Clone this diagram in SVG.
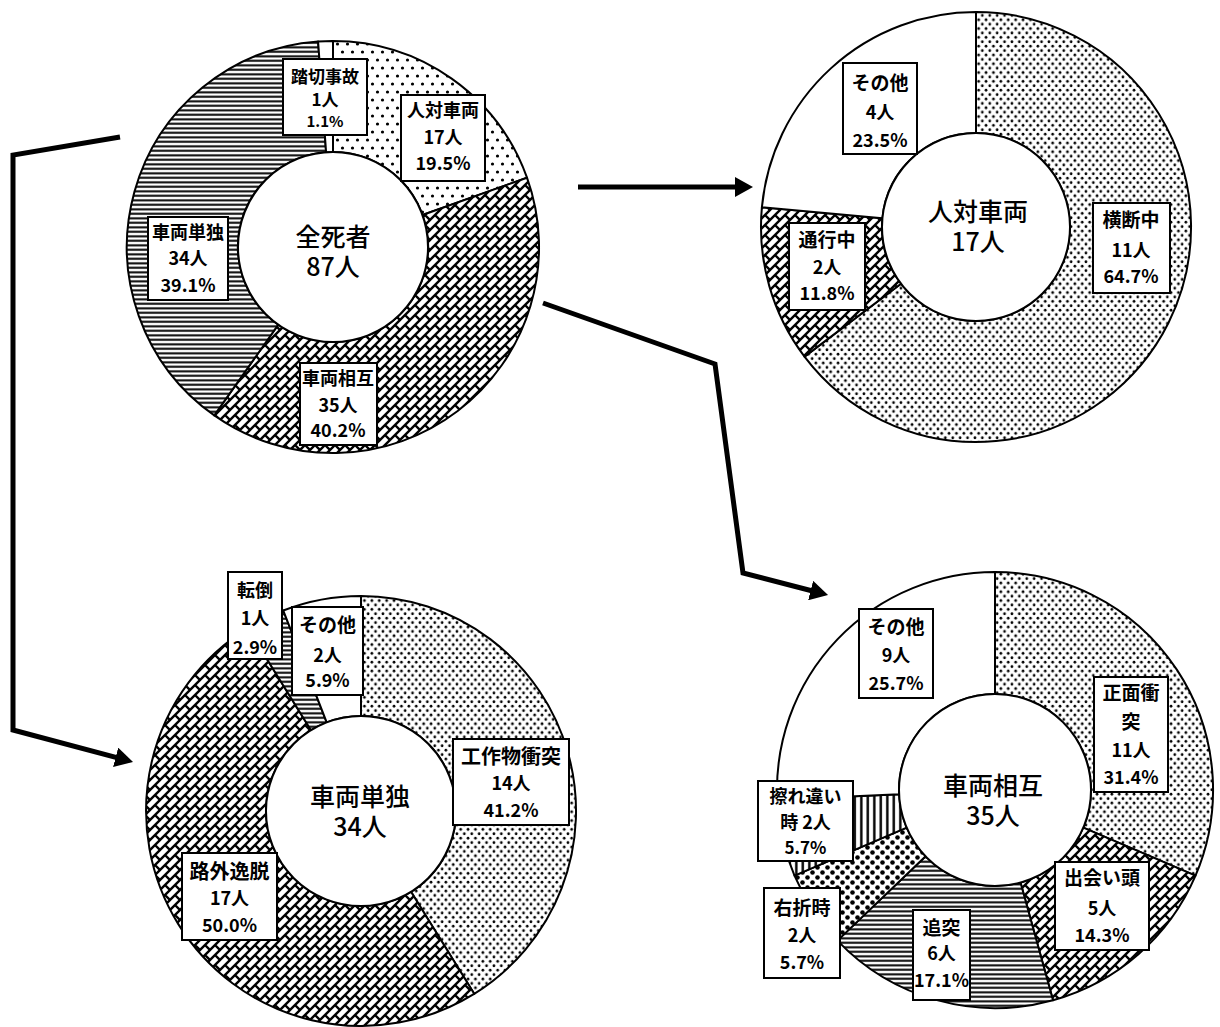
<svg xmlns="http://www.w3.org/2000/svg" width="1220" height="1027" viewBox="0 0 1220 1027">
<defs>
<style>
.sl{stroke:#000;stroke-width:2;stroke-linejoin:round}
.box{fill:#fff;stroke:#000;stroke-width:2}
.lb{font-family:"Noto Sans CJK JP","Noto Sans",sans-serif;font-weight:bold;font-size:18px;fill:#000;text-anchor:middle}
.ct{font-family:"Noto Sans CJK JP","Noto Sans",sans-serif;font-weight:500;font-size:25px;fill:#000;text-anchor:middle}
.hole{fill:#fff;stroke:#000;stroke-width:2}
.con{fill:none;stroke:#000;stroke-width:5;stroke-linejoin:miter}
</style>
<pattern id="dotsA" width="10" height="16" patternUnits="userSpaceOnUse">
<rect width="10" height="16" fill="#fff"/>
<circle cx="2.5" cy="4" r="1.6" fill="#000"/>
<circle cx="7.5" cy="12" r="1.6" fill="#000"/>
</pattern>
<pattern id="dotsB" width="7.4" height="8.8" patternUnits="userSpaceOnUse">
<rect width="7.4" height="8.8" fill="#fff"/>
<circle cx="1.85" cy="2.2" r="1.35" fill="#000"/>
<circle cx="5.55" cy="6.6" r="1.35" fill="#000"/>
</pattern>
<pattern id="bigdots" width="10" height="10" patternUnits="userSpaceOnUse">
<rect width="10" height="10" fill="#fff"/>
<circle cx="2.5" cy="2.5" r="2.3" fill="#000"/>
<circle cx="7.5" cy="7.5" r="2.3" fill="#000"/>
</pattern>
<pattern id="hlines" width="8" height="4.5" patternUnits="userSpaceOnUse">
<rect width="8" height="4.5" fill="#fff"/>
<rect y="1.3" width="8" height="2" fill="#000"/>
</pattern>
<pattern id="vlines" width="6.5" height="8" patternUnits="userSpaceOnUse">
<rect width="6.5" height="8" fill="#fff"/>
<rect x="2.1" width="2.4" height="8" fill="#000"/>
</pattern>
<pattern id="brick" width="10" height="10" patternUnits="userSpaceOnUse">
<rect width="10" height="10" fill="#fff"/>
<path d="M-1,11 L11,-1 M-1,1 L1,-1 M9,11 L11,9 M5,5 L10,10" stroke="#000" stroke-width="2.4" fill="none"/>
</pattern>
<marker id="arr" markerUnits="userSpaceOnUse" markerWidth="18" markerHeight="20" refX="10" refY="10" orient="auto">
<path d="M0,0 L18,10 L0,20 Z" fill="#000"/>
</marker>
</defs>
<rect width="1220" height="1027" fill="#fff"/>

<g id="connectors">
<polyline class="con" points="120,137 13,155 13,730 125.3,759.9" marker-end="url(#arr)"/>
<polyline class="con" points="578,187 745,187" marker-end="url(#arr)"/>
<polyline class="con" points="543,303 715,364 743,573 820.3,593" marker-end="url(#arr)"/>
</g>

<g id="chart-all">
<path class="sl" fill="url(#dotsA)" d="M333,41 A206,206 0 0 1 527.0,177.7 L422.5,215.0 A95,95 0 0 0 333,152 Z"/>
<path class="sl" fill="url(#brick)" d="M527.0,177.7 A206,206 0 0 1 214.3,415.4 L278.3,324.7 A95,95 0 0 0 422.5,215.0 Z"/>
<path class="sl" fill="url(#hlines)" d="M214.3,415.4 A206,206 0 0 1 318.1,41.5 L326.1,152.2 A95,95 0 0 0 278.3,324.7 Z"/>
<path class="sl" fill="#fff" d="M318.1,41.5 A206,206 0 0 1 333,41 L333,152 A95,95 0 0 0 326.1,152.2 Z"/>
<circle class="hole" cx="333" cy="247" r="95"/>
<text class="ct" x="333" y="246">全死者<tspan x="333" dy="30">87人</tspan></text>
<g id="n-fumikiri"><rect class="box" x="283" y="59" width="84" height="76"/>
<text class="lb" x="325" y="83" style="font-size:17px">踏切事故</text><text class="lb" x="325" y="106" style="font-size:17px">1人</text><text class="lb" x="325" y="127" style="font-size:15px">1.1%</text></g>
<g id="n-hito"><rect class="box" x="401" y="95" width="84" height="86"/>
<text class="lb" x="443" y="117">人対車両</text><text class="lb" x="443" y="144">17人</text><text class="lb" x="443" y="170">19.5%</text></g>
<g id="n-tandoku"><rect class="box" x="148" y="217" width="80" height="83"/>
<text class="lb" x="188" y="239">車両単独</text><text class="lb" x="188" y="265">34人</text><text class="lb" x="188" y="292">39.1%</text></g>
<g id="n-sougo"><rect class="box" x="300" y="363" width="77" height="82"/>
<text class="lb" x="338" y="385">車両相互</text><text class="lb" x="338" y="412">35人</text><text class="lb" x="338" y="437">40.2%</text></g>
</g>

<g id="chart-hito">
<path class="sl" fill="url(#dotsB)" d="M976,12 A215,215 0 1 1 804.5,356.6 L901.0,283.7 A94,94 0 1 0 976,133 Z"/>
<path class="sl" fill="url(#brick)" d="M804.5,356.6 A215,215 0 0 1 761.9,207.2 L882.4,218.3 A94,94 0 0 0 901.0,283.7 Z"/>
<path class="sl" fill="#fff" d="M761.9,207.2 A215,215 0 0 1 976,12 L976,133 A94,94 0 0 0 882.4,218.3 Z"/>
<circle class="hole" cx="976" cy="227" r="94"/>
<text class="ct" x="978" y="221">人対車両<tspan x="978" dy="30">17人</tspan></text>
<g id="n-sonota1"><rect class="box" x="843" y="63" width="74" height="91"/>
<text class="lb" x="880" y="90" style="font-size:19px">その他</text><text class="lb" x="880" y="119">4人</text><text class="lb" x="880" y="147">23.5%</text></g>
<g id="n-tsuko"><rect class="box" x="789" y="223" width="76" height="87"/>
<text class="lb" x="827" y="247" style="font-size:19px">通行中</text><text class="lb" x="827" y="274">2人</text><text class="lb" x="827" y="300">11.8%</text></g>
<g id="n-odan"><rect class="box" x="1093" y="203" width="77" height="90"/>
<text class="lb" x="1131" y="227" style="font-size:19px">横断中</text><text class="lb" x="1131" y="257">11人</text><text class="lb" x="1131" y="283">64.7%</text></g>
</g>

<g id="chart-tandoku">
<path class="sl" fill="url(#dotsB)" d="M361,596 A215,215 0 0 1 474.2,993.8 L411.0,891.8 A95,95 0 0 0 361,716 Z"/>
<path class="sl" fill="url(#brick)" d="M474.2,993.8 A215,215 0 0 1 247.8,628.2 L311.0,730.2 A95,95 0 0 0 411.0,891.8 Z"/>
<path class="sl" fill="url(#hlines)" d="M247.8,628.2 A215,215 0 0 1 283.3,610.5 L326.7,722.4 A95,95 0 0 0 311.0,730.2 Z"/>
<path class="sl" fill="#fff" d="M283.3,610.5 A215,215 0 0 1 361,596 L361,716 A95,95 0 0 0 326.7,722.4 Z"/>
<circle class="hole" cx="361" cy="811" r="95"/>
<text class="ct" x="360" y="806">車両単独<tspan x="360" dy="30">34人</tspan></text>
<g id="n-tento"><rect class="box" x="228" y="572" width="54" height="87"/>
<text class="lb" x="255" y="597">転倒</text><text class="lb" x="255" y="625">1人</text><text class="lb" x="255" y="654">2.9%</text></g>
<g id="n-sonota2"><rect class="box" x="292" y="607" width="71" height="88"/>
<text class="lb" x="327.5" y="632" style="font-size:19px">その他</text><text class="lb" x="327.5" y="662">2人</text><text class="lb" x="327.5" y="687">5.9%</text></g>
<g id="n-kosaku"><rect class="box" x="453" y="739" width="116" height="86"/>
<text class="lb" x="511" y="764" style="font-size:20px">工作物衝突</text><text class="lb" x="511" y="790">14人</text><text class="lb" x="511" y="817">41.2%</text></g>
<g id="n-rogai"><rect class="box" x="182" y="853" width="95" height="87"/>
<text class="lb" x="229.5" y="879" style="font-size:20px">路外逸脱</text><text class="lb" x="229.5" y="905">17人</text><text class="lb" x="229.5" y="932">50.0%</text></g>
</g>

<g id="chart-sougo">
<path class="sl" fill="url(#dotsB)" d="M995,572 A218,218 0 0 1 1195.5,875.7 L1083.3,827.7 A96,96 0 0 0 995,694 Z"/>
<path class="sl" fill="url(#brick)" d="M1195.5,875.7 A218,218 0 0 1 1053.0,1000.2 L1020.5,882.5 A96,96 0 0 0 1083.3,827.7 Z"/>
<path class="sl" fill="url(#hlines)" d="M1053.0,1000.2 A218,218 0 0 1 837.4,940.6 L925.6,856.3 A96,96 0 0 0 1020.5,882.5 Z"/>
<path class="sl" fill="url(#bigdots)" d="M837.4,940.6 A218,218 0 0 1 794.5,875.7 L906.7,827.7 A96,96 0 0 0 925.6,856.3 Z"/>
<path class="sl" fill="url(#vlines)" d="M794.5,875.7 A218,218 0 0 1 777.2,799.8 L899.1,794.3 A96,96 0 0 0 906.7,827.7 Z"/>
<path class="sl" fill="#fff" d="M777.2,799.8 A218,218 0 0 1 995,572 L995,694 A96,96 0 0 0 899.1,794.3 Z"/>
<circle class="hole" cx="995" cy="790" r="96"/>
<text class="ct" x="993" y="795">車両相互<tspan x="993" dy="30">35人</tspan></text>
<g id="n-sonota3"><rect class="box" x="859" y="609" width="74" height="89"/>
<text class="lb" x="896" y="634" style="font-size:19px">その他</text><text class="lb" x="896" y="662">9人</text><text class="lb" x="896" y="690">25.7%</text></g>
<g id="n-shomen"><rect class="box" x="1094" y="677" width="74" height="115"/>
<text class="lb" x="1131" y="700" style="font-size:19px">正面衝</text><text class="lb" x="1131" y="729" style="font-size:19px">突</text><text class="lb" x="1131" y="757">11人</text><text class="lb" x="1131" y="784">31.4%</text></g>
<g id="n-surechigai"><rect class="box" x="758" y="781" width="95" height="80"/>
<text class="lb" x="805.5" y="803" style="font-size:18px">擦れ違い</text><text class="lb" x="805.5" y="829" style="font-size:18px">時 2人</text><text class="lb" x="805.5" y="854" style="font-size:17px">5.7%</text></g>
<g id="n-deai"><rect class="box" x="1055" y="862" width="94" height="88"/>
<text class="lb" x="1102" y="885" style="font-size:19px">出会い頭</text><text class="lb" x="1102" y="915">5人</text><text class="lb" x="1102" y="942">14.3%</text></g>
<g id="n-usetsu"><rect class="box" x="764" y="888" width="76" height="90"/>
<text class="lb" x="802" y="915" style="font-size:19px">右折時</text><text class="lb" x="802" y="942">2人</text><text class="lb" x="802" y="969">5.7%</text></g>
<g id="n-tsuitotsu"><rect class="box" x="913" y="910" width="57" height="90"/>
<text class="lb" x="941.5" y="935" style="font-size:19px">追突</text><text class="lb" x="941.5" y="960">6人</text><text class="lb" x="941.5" y="987">17.1%</text></g>
</g>
</svg>
